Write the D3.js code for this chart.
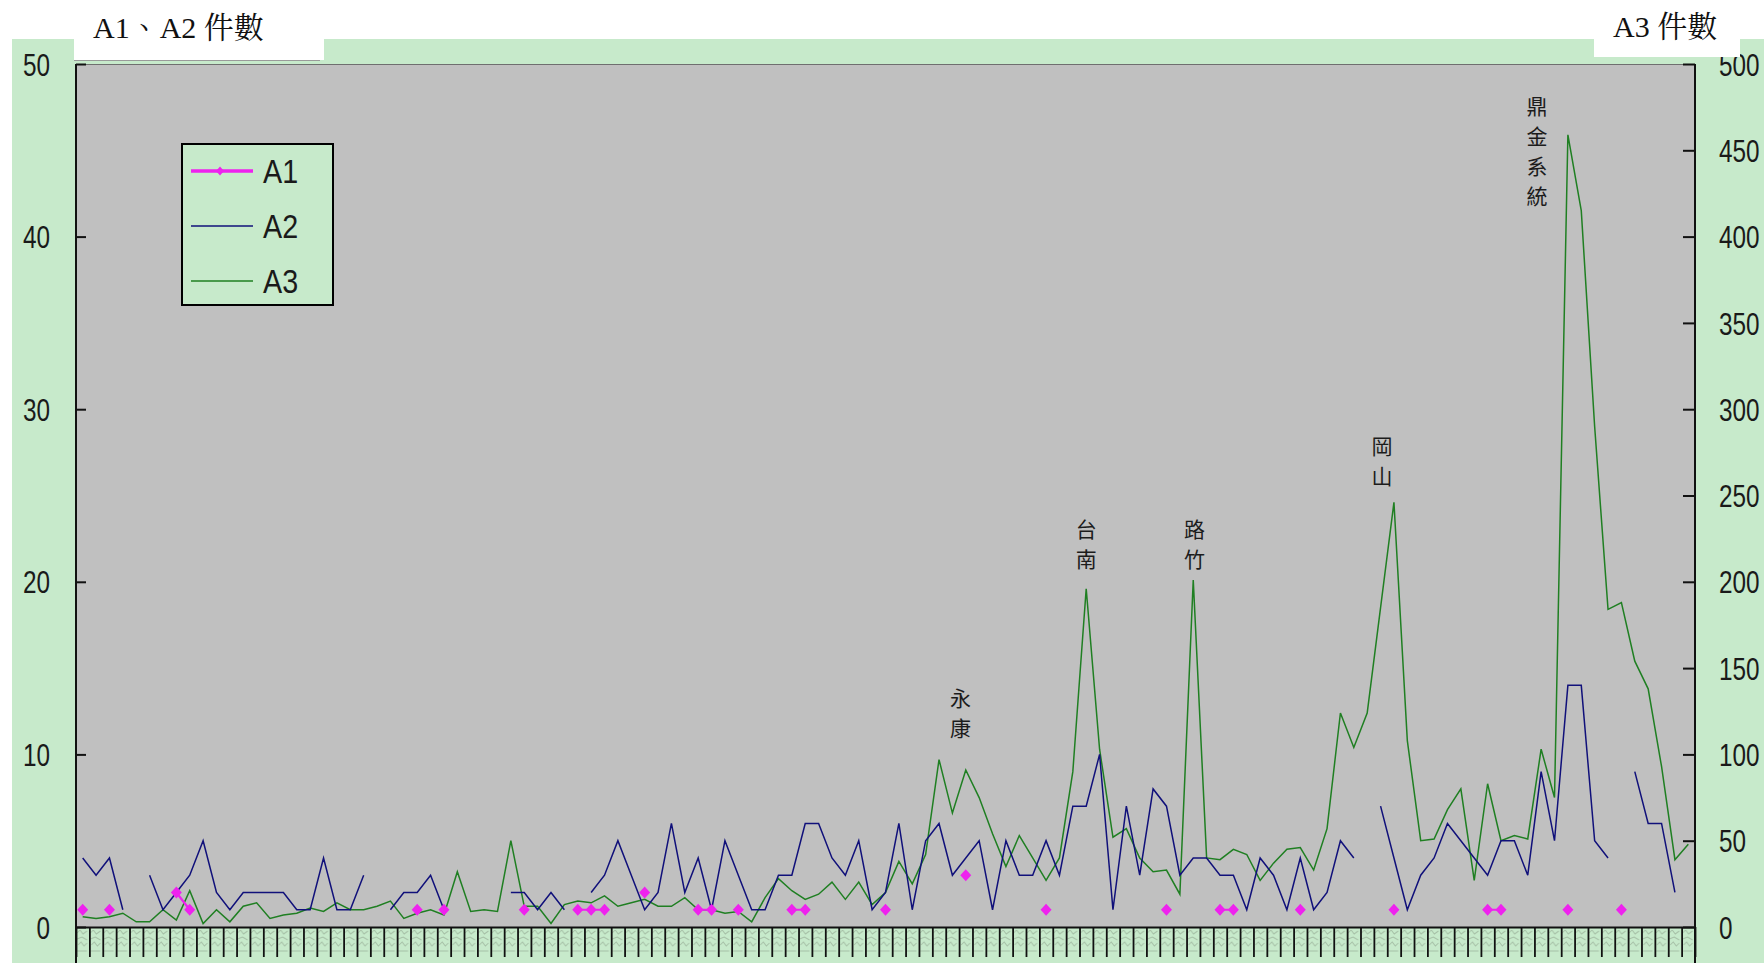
<!DOCTYPE html>
<html><head><meta charset="utf-8">
<script src="https://cdn.jsdelivr.net/npm/d3@7"></script>
<style>
html,body{margin:0;padding:0;background:#fff;overflow:hidden;}
svg{display:block;}
</style></head><body>
<svg id="chart" width="1764" height="963"></svg>
<script>
// ---------------- DATA ----------------
const categories = d3.range(1, 122); // 121 periods (axis labels unreadable in source)

const seriesA1 = [
  1,null,1,null,null,null,null,2,1,null,
  null,null,null,null,null,null,null,null,null,null,
  null,null,null,null,null,1,null,1,null,null,
  null,null,null,1,null,null,null,1,1,1,
  null,null,2,null,null,null,1,1,null,1,
  null,null,null,1,1,null,null,null,null,null,
  1,null,null,null,null,null,3,null,null,null,
  null,null,1,null,null,null,null,null,null,null,
  null,1,null,null,null,1,1,null,null,null,
  null,1,null,null,null,null,null,null,1,null,
  null,null,null,null,null,1,1,null,null,null,
  null,1,null,null,null,1,null,null,null,null,
  null
];

const seriesA2 = [
  4,3,4,1,null,3,1,2,3,5,
  2,1,2,2,2,2,1,1,4,1,
  1,3,null,1,2,2,3,1,null,null,
  null,null,2,2,1,2,1,null,2,3,
  5,3,1,2,6,2,4,1,5,3,
  1,1,3,3,6,6,4,3,5,1,
  2,6,1,5,6,3,4,5,1,5,
  3,3,5,3,7,7,10,1,7,3,
  8,7,3,4,4,3,3,1,4,3,
  1,4,1,2,5,4,null,7,4,1,
  3,4,6,5,4,3,5,5,3,9,
  5,14,14,5,4,null,9,6,6,2,
  null
];

const seriesA3 = [
  6,5,6,8,3,3,10,4,21,2,
  10,3,12,14,5,7,8,11,9,14,
  10,10,12,15,5,8,10,7,32,9,
  10,9,50,12,12,2,13,15,14,18,
  12,14,16,12,12,17,10,10,8,9,
  3,17,28,21,16,19,26,16,26,13,
  20,38,25,42,97,66,91,75,54,35,
  53,40,27,40,90,196,103,52,57,40,
  32,33,19,201,40,39,45,42,27,37,
  45,46,33,57,124,104,124,185,246,108,
  50,51,68,80,27,83,50,53,51,103,
  75,459,415,290,184,188,154,138,93,39,
  48
];

const leftTicks = [0, 10, 20, 30, 40, 50];
const rightTicks = [0, 50, 100, 150, 200, 250, 300, 350, 400, 450, 500];
const leftTitle = "A1、A2 件數";
const rightTitle = "A3 件數";
const seriesNames = ["A1", "A2", "A3"];

// labels of peaks: position in category units, level in A3 units
const annotations = [
  { text: "永康", at: 65.6, level: 115 },
  { text: "台南", at: 75.0, level: 213 },
  { text: "路竹", at: 83.1, level: 213 },
  { text: "岡山", at: 97.1, level: 261 },
  { text: "鼎金系統", at: 108.7, level: 423 }
];

// ---------------- LAYOUT / STYLE ----------------
const W = 1764, H = 963;
const plot = { left: 76, right: 1695, top: 64, bottom: 927 };
const GREEN_BG = "#c7eacb";
const GRAY = "#c0c0c0";
const C_A1 = "#ee22ee", C_A2 = "#10107a", C_A3 = "#1f7f22";
const NARROW = "'Liberation Sans','DejaVu Sans',sans-serif";
const SERIF = "'Liberation Serif','Noto Serif CJK TC','Noto Sans CJK TC',serif";
const CJK = "'Noto Sans CJK TC','Noto Sans CJK SC',sans-serif";
const SQUEEZE = 0.785; // horizontal squeeze of the narrow axis font

const svg = d3.select("#chart");

svg.append("rect").attr("width", W).attr("height", H).attr("fill", "#fff");
svg.append("rect").attr("x", 12).attr("y", 39).attr("width", W - 12).attr("height", H - 39).attr("fill", GREEN_BG);

// scales
const x = d3.scaleBand().domain(categories).range([plot.left, plot.right]).padding(0);
const bw = x.bandwidth();
const cx = c => x(c) + bw / 2;
const xi = d3.scaleLinear().domain([0, categories.length]).range([plot.left, plot.right]);
const yL = d3.scaleLinear().domain([0, 50]).range([plot.bottom, plot.top]);
const yR = d3.scaleLinear().domain([0, 500]).range([plot.bottom, plot.top]);

// plot area
svg.append("rect")
  .attr("x", plot.left).attr("y", plot.top)
  .attr("width", plot.right - plot.left).attr("height", plot.bottom - plot.top)
  .attr("fill", GRAY);
svg.append("line").attr("x1", plot.left).attr("x2", plot.right)
  .attr("y1", plot.top + 0.5).attr("y2", plot.top + 0.5)
  .attr("stroke", "#6f6f6f").attr("stroke-width", 1.2);

// faint squeezed category-label texture under the axis
const defs = svg.append("defs");
const pat = defs.append("pattern").attr("id", "lbl")
  .attr("patternUnits", "userSpaceOnUse")
  .attr("x", plot.left).attr("y", plot.bottom)
  .attr("width", bw).attr("height", 30);
pat.append("path")
  .attr("d", `M1,6 L4,3 L7,7 L11,4 M1,12 L6,10 L11,13 M2,18 L5,15 L8,19 L11,16 M1,24 L11,24`)
  .attr("fill", "none").attr("stroke", "#9db59e").attr("stroke-width", 1).attr("opacity", 0.8);
svg.append("rect").attr("x", plot.left).attr("y", plot.bottom + 3)
  .attr("width", plot.right - plot.left).attr("height", 27).attr("fill", "url(#lbl)");

// bottom axis: ticks at category boundaries
const gx = svg.append("g").attr("transform", `translate(0,${plot.bottom})`)
  .call(d3.axisBottom(xi).tickValues(d3.range(0, categories.length + 1)).tickSize(30).tickSizeOuter(0).tickFormat(""));
gx.selectAll(".tick line").attr("stroke", "#111").attr("stroke-width", 1.8);
gx.select(".domain").attr("stroke", "#111").attr("stroke-width", 2.2);

function narrowText(sel) {
  sel.each(function () {
    const t = d3.select(this);
    const x0 = +t.attr("x");
    t.attr("x", 0)
      .attr("transform", `translate(${x0},0) scale(${SQUEEZE},1)`)
      .attr("font-family", NARROW).attr("font-size", 31).attr("fill", "#1a1a1a").attr("dy", "0.36em");
  });
}

// left axis
const gl = svg.append("g").attr("transform", `translate(${plot.left},0)`)
  .call(d3.axisLeft(yL).tickValues(leftTicks).tickSizeInner(-10).tickSizeOuter(0).tickPadding(26));
gl.select(".domain").remove();
gl.selectAll(".tick line").attr("stroke", "#111").attr("stroke-width", 2);
gl.selectAll(".tick text").call(narrowText);
svg.append("line").attr("x1", plot.left).attr("x2", plot.left).attr("y1", plot.top).attr("y2", H)
  .attr("stroke", "#111").attr("stroke-width", 2);

// right axis
const gr = svg.append("g").attr("transform", `translate(${plot.right},0)`)
  .call(d3.axisRight(yR).tickValues(rightTicks).tickSizeInner(-12).tickSizeOuter(0).tickPadding(24));
gr.select(".domain").remove();
gr.selectAll(".tick line").attr("stroke", "#111").attr("stroke-width", 2);
gr.selectAll(".tick text").call(narrowText);
svg.append("line").attr("x1", plot.right).attr("x2", plot.right).attr("y1", plot.top).attr("y2", H)
  .attr("stroke", "#111").attr("stroke-width", 2);

// series
const rows = categories.map((c, i) => ({ c, a1: seriesA1[i], a2: seriesA2[i], a3: seriesA3[i] }));

const lineA3 = d3.line().defined(d => d.a3 != null).x(d => cx(d.c)).y(d => yR(d.a3));
const lineA2 = d3.line().defined(d => d.a2 != null).x(d => cx(d.c)).y(d => yL(d.a2));
const lineA1 = d3.line().defined(d => d.a1 != null).x(d => cx(d.c)).y(d => yL(d.a1));

svg.append("path").datum(rows).attr("d", lineA3)
  .attr("fill", "none").attr("stroke", C_A3).attr("stroke-width", 1.5).attr("stroke-linejoin", "miter");
svg.append("path").datum(rows).attr("d", lineA2)
  .attr("fill", "none").attr("stroke", C_A2).attr("stroke-width", 1.5).attr("stroke-linejoin", "miter");
svg.append("path").datum(rows).attr("d", lineA1)
  .attr("fill", "none").attr("stroke", C_A1).attr("stroke-width", 2.2);

const diamond = "M0,-6L5.5,0L0,6L-5.5,0Z";
svg.append("g").selectAll("path").data(rows.filter(d => d.a1 != null)).join("path")
  .attr("transform", d => `translate(${cx(d.c)},${yL(d.a1)})`)
  .attr("d", diamond).attr("fill", C_A1);

// annotations (vertical text)
const gA = svg.append("g").attr("font-family", CJK).attr("font-size", 21).attr("fill", "#1c1c1c")
  .attr("text-anchor", "middle");
annotations.forEach(a => {
  const chars = Array.from(a.text);
  const xx = xi(a.at + 0.5);
  const yLast = yR(a.level);
  chars.forEach((ch, i) => {
    gA.append("text").attr("x", xx).attr("y", yLast - (chars.length - 1 - i) * 30)
      .attr("dy", "0.36em").text(ch);
  });
});

// legend
const lg = svg.append("g");
lg.append("rect").attr("x", 182).attr("y", 144).attr("width", 151).attr("height", 161)
  .attr("fill", GREEN_BG).attr("stroke", "#000").attr("stroke-width", 2);
const legendRows = [
  { name: seriesNames[0], color: C_A1, w: 3.5, marker: true, y: 171 },
  { name: seriesNames[1], color: C_A2, w: 1.5, marker: false, y: 226 },
  { name: seriesNames[2], color: C_A3, w: 1.5, marker: false, y: 281 }
];
legendRows.forEach(r => {
  lg.append("line").attr("x1", 191).attr("x2", 253).attr("y1", r.y).attr("y2", r.y)
    .attr("stroke", r.color).attr("stroke-width", r.w);
  if (r.marker) lg.append("path").attr("transform", `translate(220,${r.y})`).attr("d", "M0,-4.5L4,0L0,4.5L-4,0Z").attr("fill", r.color);
  lg.append("text").attr("x", 0).attr("y", 0).attr("dy", "0.36em")
    .attr("transform", `translate(263,${r.y}) scale(0.87,1)`)
    .attr("font-family", NARROW).attr("font-size", 33).attr("fill", "#1a1a1a").text(r.name);
});

// title boxes
svg.append("rect").attr("x", 74).attr("y", 38).attr("width", 250).attr("height", 22).attr("fill", "#fff");
svg.append("line").attr("x1", 74).attr("x2", 320).attr("y1", 60.5).attr("y2", 60.5).attr("stroke", "#9a9a9a").attr("stroke-width", 1);
svg.append("rect").attr("x", 1594).attr("y", 38).attr("width", 146).attr("height", 19).attr("fill", "#fff");

svg.append("text").attr("x", 93).attr("y", 38).attr("font-family", SERIF).attr("font-size", 30).attr("fill", "#111").text(leftTitle);
svg.append("text").attr("x", 1613).attr("y", 37).attr("font-family", SERIF).attr("font-size", 30).attr("fill", "#111").text(rightTitle);
</script>
</body></html>
